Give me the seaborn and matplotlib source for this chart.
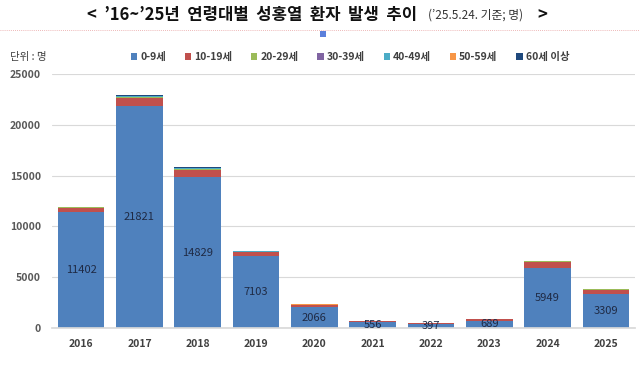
import matplotlib
matplotlib.use("Agg")
import matplotlib.pyplot as plt
import seaborn as sns
import pandas as pd
import numpy as np
from matplotlib.patches import Patch
from matplotlib.lines import Line2D

years = ["2016", "2017", "2018", "2019", "2020", "2021", "2022", "2023", "2024", "2025"]
groups = ["0-9세", "10-19세", "20-29세", "30-39세", "40-49세", "50-59세", "60세 이상"]
age_0_9 = [11402, 21821, 14829, 7103, 2066, 556, 397, 689, 5949, 3309]
age_10_19 = [440, 790, 720, 350, 200, 110, 100, 170, 590, 480]
age_20_29 = [30, 100, 90, 40, 20, 8, 8, 10, 15, 15]
age_30_39 = [20, 60, 50, 25, 12, 5, 5, 6, 10, 10]
age_40_49 = [15, 50, 45, 20, 10, 4, 4, 5, 8, 8]
age_50_59 = [10, 40, 35, 15, 6, 3, 3, 4, 6, 6]
age_60p = [25, 80, 60, 30, 15, 6, 6, 8, 12, 12]
colors = ["#4F81BD", "#C0504D", "#9BBB59", "#8064A2", "#4BACC6", "#F79646", "#1F497D"]

series = [age_0_9, age_10_19, age_20_29, age_30_39, age_40_49, age_50_59, age_60p]
df = pd.DataFrame({g: s for g, s in zip(groups, series)}, index=years)
cum = df.cumsum(axis=1)

sns.set_theme(style="white")
plt.rcParams["font.family"] = ["Noto Sans CJK KR", "DejaVu Sans"]

fig = plt.figure(figsize=(6.4, 3.7), dpi=100)
ax = fig.add_axes([52/640, 1-328/370, (635-52)/640, (328-74)/370])

for g, c in list(zip(groups, colors))[::-1]:
    d = pd.DataFrame({"year": years, "value": cum[g].values})
    sns.barplot(data=d, x="year", y="value", color=c, saturation=1, width=0.8,
                edgecolor="none", linewidth=0, ax=ax)

blue = ax.containers[-1]
ax.bar_label(blue, labels=[str(v) for v in age_0_9], label_type="center",
             fontsize=8, color="#1F2A44")

ax.set_ylim(0, 25000)
ax.set_xlim(-0.5, 9.5)
ax.set_yticks([0, 5000, 10000, 15000, 20000, 25000])
ax.set_yticklabels(["0", "5000", "10000", "15000", "20000", "25000"])
ax.grid(axis="y", color="#D9D9D9", linewidth=0.8)
ax.set_axisbelow(True)
ax.set_xlabel("")
ax.set_ylabel("")
for s in ["top", "right", "left"]:
    ax.spines[s].set_visible(False)
ax.spines["bottom"].set_color("#D9D9D9")
ax.tick_params(axis="y", labelsize=7.5, labelcolor="#595959", length=0, pad=8)
ax.tick_params(axis="x", labelsize=7.5, labelcolor="#404040", length=0, pad=8)
for t in ax.get_yticklabels() + ax.get_xticklabels():
    t.set_fontweight("bold")

# title
fig.text(417/640, 1-15/370, "<  \u201916~\u201925년  연령대별  성홍열  환자  발생  추이", ha="right", va="center",
         fontsize=12, fontweight="bold", color="#111111")
fig.text(428/640, 1-15/370, "(\u201925.5.24. 기준; 명)", ha="left", va="center",
         fontsize=8.5, color="#333333")
fig.text(537/640, 1-15/370, ">", ha="left", va="center", fontsize=12, fontweight="bold", color="#111111")

# dotted line and marker
fig.add_artist(Line2D([0, 1], [1-29.5/370, 1-29.5/370], transform=fig.transFigure,
                      color="#E8A0A0", linestyle=(0, (1, 1.5)), linewidth=0.6))
sq = plt.Rectangle((320/640, 1-37/370), 6/640, 6/370, transform=fig.transFigure,
                   facecolor="#5B7FDB", edgecolor="none")
fig.add_artist(sq)

# unit + legend
fig.text(10/640, 1-57/370, "단위 : 명", ha="left", va="center", fontsize=7.5, color="#404040")
handles = [Patch(facecolor=c, edgecolor="none") for c in colors]
leg = fig.legend(handles, groups, ncol=7, loc="center", bbox_to_anchor=(350/640, 1-57/370),
                 frameon=False, fontsize=7.5, handlelength=0.6, handleheight=0.6,
                 handletextpad=0.3, columnspacing=1.8, borderaxespad=0)
for t in leg.get_texts():
    t.set_color("#404040")
    t.set_fontweight("bold")

fig.savefig("out.png", dpi=100)
